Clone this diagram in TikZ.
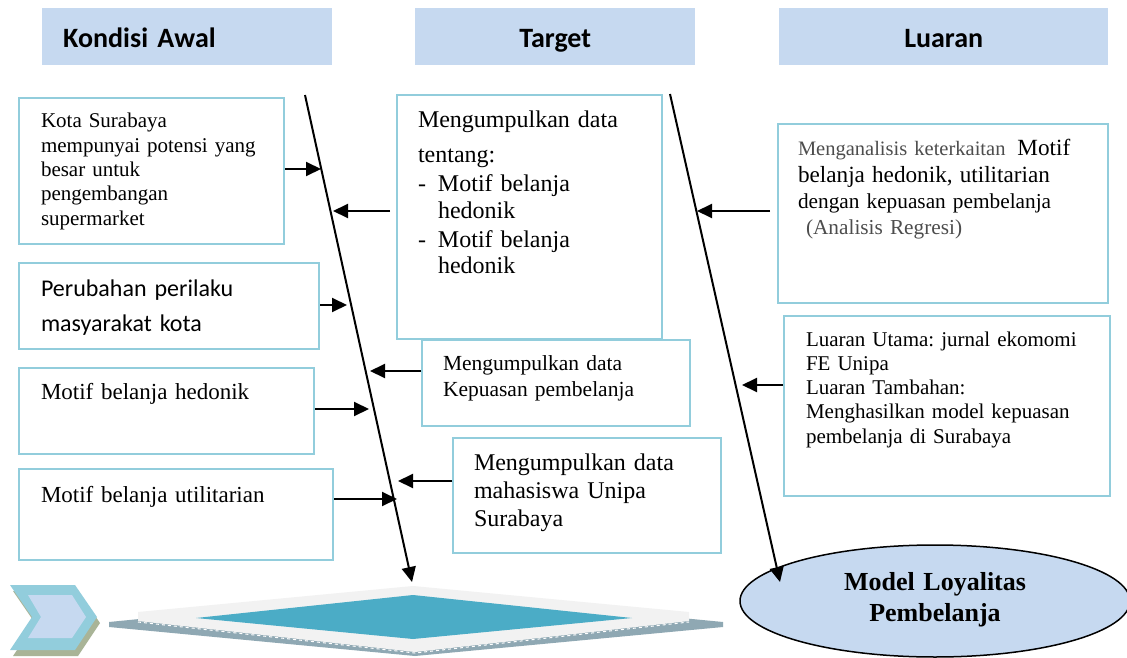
\documentclass[tikz,border=0pt]{standalone}
\usepackage{fontspec}
\setmainfont{Liberation Serif}
\newfontfamily\carlito{Carlito}
\usetikzlibrary{arrows.meta,shapes.geometric}
\definecolor{boxline}{HTML}{92CDDC}
\definecolor{headfill}{HTML}{C6D9F0}
\definecolor{diamteal}{HTML}{4BACC6}
\definecolor{diamlight}{HTML}{F2F2F2}
\definecolor{diamgray}{HTML}{8FA8B3}
\definecolor{chevshadow}{HTML}{A9B497}
\definecolor{txtgray}{HTML}{4D4D4D}
\frenchspacing
\begin{document}
\begin{tikzpicture}[x=1pt,y=-1pt,
  box/.style={draw=boxline, line width=2pt, fill=white, anchor=north west, inner ysep=0pt, align=left},
  head/.style={fill=headfill, anchor=north west, inner ysep=0pt, inner xsep=0pt, text height=39pt, text depth=18pt, font={\carlito\bfseries\fontsize{28}{32}\selectfont}},
  arr/.style={line width=2pt, -{Triangle[length=15pt,width=14pt]}},
  spine/.style={line width=2pt, -{Triangle[length=15pt,width=14pt]}}
]
\useasboundingbox (0,0) rectangle (1127,658);
\fill[white] (0,0) rectangle (1127,658);

% headers
\node[head, inner xsep=21pt, text width=248pt, align=left] (h1) at (42,8) {Kondisi Awal};
\node[head, text width=280pt, align=center] (h2) at (415,8) {Target};
\node[head, text width=329pt, align=center] (h3) at (779,8) {Luaran};

% left column
\node[box, inner xsep=22pt, text width=221pt, text height=30pt, text depth=116pt, font={\fontsize{21}{24.3}\selectfont}] (k1) at (18,97)
  {Kota Surabaya\\mempunyai potensi yang\\besar untuk\\pengembangan\\supermarket};
\node[box, inner xsep=22pt, text width=256pt, text height=33pt, text depth=53pt, font={\carlito\fontsize{24}{35}\selectfont}] (k2) at (18,262)
  {Perubahan perilaku\\masyarakat kota};
\node[box, inner xsep=22pt, text width=251pt, text height=31pt, text depth=55pt, font={\fontsize{23}{27}\selectfont}] (k3) at (18,367)
  {Motif belanja hedonik};
\node[box, inner xsep=22pt, text width=270pt, text height=33pt, text depth=58pt, font={\fontsize{23}{27}\selectfont}] (k4) at (18,468)
  {Motif belanja utilitarian};

% target column
\node[box, inner xsep=21pt, text width=223pt, text height=33pt, text depth=211pt, font={\fontsize{24}{26.5}\selectfont}] (t1) at (396,94)
  {Mengumpulkan data\\[8pt]tentang:\\[3pt]\makebox[20pt][l]{-}Motif belanja\\\hspace*{20pt}hedonik\\[2.5pt]\makebox[20pt][l]{-}Motif belanja\\\hspace*{20pt}hedonik};
\node[box, inner xsep=21pt, text width=226pt, text height=30pt, text depth=56pt, font={\fontsize{21.5}{26}\selectfont}] (t2) at (421,339)
  {Mengumpulkan data\\Kepuasan pembelanja};
\node[box, inner xsep=21pt, text width=226pt, text height=32pt, text depth=83pt, font={\fontsize{24}{28}\selectfont}] (t3) at (452,437)
  {Mengumpulkan data\\mahasiswa Unipa\\Surabaya};

% luaran column
\node[box, inner xsep=20pt, text width=290pt, text height=32pt, text depth=147pt, font={\fontsize{21.3}{26}\selectfont}] (l1) at (777,123)
  {{\color{txtgray}\fontsize{20.5}{26}\selectfont Menganalisis keterkaitan}\hspace{12pt}{\fontsize{23.2}{26}\selectfont Motif}\\[1pt]{\fontsize{23.2}{26}\selectfont belanja hedonik, utilitarian}\\dengan kepuasan pembelanja\\[-1pt]{\color{txtgray}\hspace*{8pt}(Analisis Regresi)}};
\node[box, inner xsep=22pt, text width=282pt, text height=30pt, text depth=150pt, font={\fontsize{21}{24.3}\selectfont}] (l2) at (783,315)
  {Luaran Utama: jurnal ekomomi\\FE Unipa\\Luaran Tambahan:\\Menghasilkan model kepuasan\\pembelanja di Surabaya};

% chevron
\fill[chevshadow] (13,591) -- (78,591) -- (100,623) -- (78,656) -- (13,656) -- (35,623) -- cycle;
\fill[boxline] (10,585) -- (75,585) -- (97,617) -- (75,650) -- (10,650) -- (32,617) -- cycle;
\fill[headfill] (28,595) -- (72,595) -- (86,617) -- (72,638) -- (28,638) -- (41,617) -- cycle;

% diamond
\fill[diamgray] (109,622) -- (413,592) -- (723,622) -- (723,627) -- (415,656) -- (109,627) -- cycle;
\fill[diamlight] (138,612) -- (413,586) -- (689,612) -- (689,621) -- (415,652) -- (138,621) -- cycle;
\draw[white, line width=1pt, dash pattern=on 3pt off 3pt] (138,622) -- (415,653) -- (689,622);
\fill[diamteal] (196,618) -- (413,595) -- (632,618) -- (413,639) -- cycle;

% ellipse
\node[ellipse, draw=black, line width=1.5pt, fill=headfill, minimum width=390pt, minimum height=112pt, inner sep=0pt, align=center, text width=220pt, text height=20pt, text depth=42pt, font={\bfseries\fontsize{26}{31}\selectfont}] (model) at (935,601)
  {Model Loyalitas\\Pembelanja};

% spines
\coordinate (ls) at (305,95);
\coordinate (le) at (412,582);
\coordinate (rs) at (670,94);
\coordinate (re) at (780,582);
\draw[spine] (ls) -- (le);
\draw[spine] (rs) -- (re);

% arrows from Kondisi Awal
\coordinate (ta1) at (321,169);
\coordinate (ta2) at (347,305);
\coordinate (ta3) at (369,409);
\coordinate (ta4) at (397,499);
\draw[arr] (k1.east |- ta1) -- (ta1);
\draw[arr] (k2.east |- ta2) -- (ta2);
\draw[arr] (k3.east |- ta3) -- (ta3);
\draw[arr] (k4.east |- ta4) -- (ta4);

% arrows from Target
\coordinate (sb1) at (390,211);
\coordinate (tb1) at (333,211);
\coordinate (tb2) at (370,371);
\coordinate (tb3) at (398,481);
\draw[arr] (sb1) -- (tb1);
\draw[arr] (t2.west |- tb2) -- (tb2);
\draw[arr] (t3.west |- tb3) -- (tb3);

% arrows from Luaran
\coordinate (sc1) at (770,211);
\coordinate (tc1) at (697,211);
\coordinate (tc2) at (742,385);
\draw[arr] (sc1) -- (tc1);
\draw[arr] (l2.west |- tc2) -- (tc2);
\end{tikzpicture}
\end{document}
